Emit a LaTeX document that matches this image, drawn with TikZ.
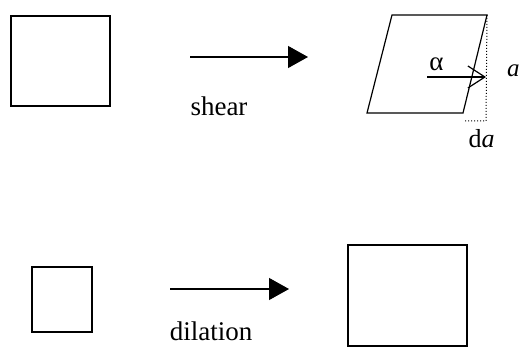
\documentclass[tikz,border=0pt]{standalone}
\usepackage{fontspec}
\setmainfont{Liberation Serif}
\usetikzlibrary{arrows.meta,positioning}
\tikzset{
  box/.style={draw, line width=1.2pt, inner sep=0pt},
  move/.style={line width=1.2pt, -{Triangle[length=20pt,width=22pt]}},
  big text/.style={font=\fontsize{27}{30}\selectfont, inner sep=0pt, anchor=base},
  small text/.style={font=\fontsize{25}{27}\selectfont, inner sep=0pt}}

\begin{document}
\begin{tikzpicture}[x=1pt, y=-1pt]
  \useasboundingbox (0,0) rectangle (519,347);
  % shear
  \node[box, minimum width=99pt, minimum height=90pt] (sq_0) at (60.5,61) {};
  \coordinate (s_0) at (190,57);
  \coordinate (s_1) at (308,57);
  \draw[move] (s_0) -- (s_1);
  \node[big text] (shear) at (219,116) {shear};
  \coordinate (p_0) at (392,15);
  \coordinate (p_1) at (487,15);
  \coordinate (p_2) at (463,113);
  \coordinate (p_3) at (367,113);
  \draw[line width=1.2pt] (p_0) -- (p_1) -- (p_2) -- (p_3) -- cycle;
  \coordinate (d_0) at (486,121);
  \coordinate (d_1) at (465,121);
  \draw[dotted, line width=1pt] (p_1) -- (d_0) -- (d_1);
  \coordinate (a_0) at (427,77);
  \coordinate (a_1) at (486,77);
  \draw[line width=1.2pt, -{Straight Barb[length=17pt,width=22pt]}] (a_0) -- (a_1);
  \node[small text, font=\fontsize{27}{29}\selectfont] (alpha) at (436.5,64) {α};
  \node[small text, anchor=west] (a) at (507,71) {\textit{a}};
  \node[small text, font=\fontsize{26}{28}\selectfont, anchor=base] (da) at (481.5,148) {d\textit{a}};
  % dilation
  \node[box, minimum width=60pt, minimum height=65pt] (sq_1) at (62,299.5) {};
  \coordinate (t_0) at (170,289);
  \coordinate (t_1) at (289,289);
  \draw[move] (t_0) -- (t_1);
  \node[big text] (dilation) at (211,340) {dilation};
  \node[box, minimum width=119pt, minimum height=101pt] (sq_2) at (407.5,295.5) {};
\end{tikzpicture}
\end{document}
